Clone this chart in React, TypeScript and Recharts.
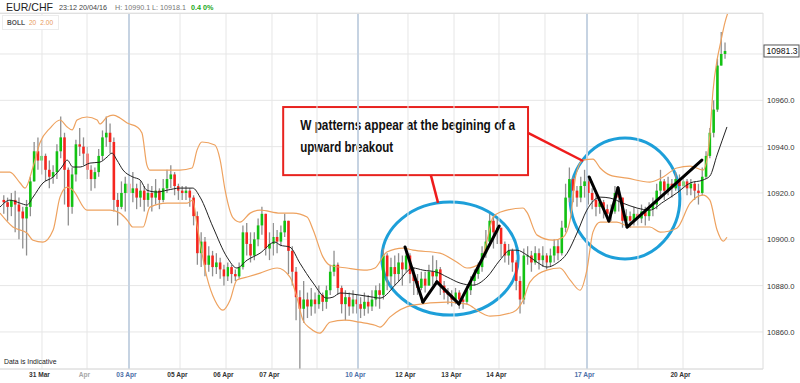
import React from 'react'
import {
  ComposedChart,
  Bar,
  Line,
  XAxis,
  YAxis,
  CartesianGrid,
  ReferenceLine,
  ReferenceArea,
  ReferenceDot,
} from 'recharts'

// hourly-ish candles, index 1..191; open = previous close
const closes = [
  10916, 10914, 10917, 10915, 10912, 10909, 10914, 10925, 10938, 10934,
  10936, 10930, 10927, 10929, 10938, 10944, 10930, 10914, 10928, 10941,
  10940, 10937, 10930, 10926, 10929, 10936, 10944, 10946, 10942, 10917,
  10914, 10920, 10924, 10920, 10922, 10918, 10921, 10917, 10920, 10918,
  10921, 10917, 10922, 10926, 10928, 10923, 10921, 10920, 10921, 10918,
  10910, 10894, 10899, 10889, 10893, 10888, 10890, 10887, 10884, 10888,
  10885, 10884, 10888, 10903, 10898, 10893, 10900, 10906, 10911, 10896,
  10898, 10901, 10899, 10903, 10908, 10895, 10886, 10875, 10870, 10874,
  10871, 10874, 10872, 10876, 10873, 10878, 10886, 10889, 10879, 10872,
  10875, 10871, 10874, 10872, 10870, 10873, 10871, 10874, 10878, 10876,
  10893, 10884, 10888, 10885, 10890, 10887, 10893, 10885, 10882, 10879,
  10883, 10880, 10886, 10884, 10887, 10880, 10877, 10876, 10874, 10877,
  10874, 10873, 10878, 10882, 10885, 10888, 10894, 10899, 10908, 10903,
  10905, 10898, 10893, 10895, 10890, 10882, 10874, 10893, 10893, 10890,
  10894, 10891, 10893, 10890, 10893, 10897, 10894, 10905, 10918, 10926,
  10921, 10918, 10923, 10925, 10920, 10917, 10914, 10916, 10913, 10911,
  10912, 10920, 10918, 10908, 10910, 10908, 10911, 10909, 10912, 10910,
  10913, 10915, 10921, 10925, 10921, 10924, 10922, 10926, 10923, 10925,
  10922, 10924, 10921, 10920, 10927, 10936, 10946, 10956, 10975, 10980,
  10981.3,
]
const highs = [
  10919, 10918, 10920, 10921, 10918, 10914, 10917, 10927, 10942, 10944,
  10943, 10937, 10934, 10932, 10941, 10953, 10946, 10931, 10931, 10943,
  10948, 10944, 10940, 10932, 10931, 10939, 10947, 10953, 10950, 10944,
  10920, 10925, 10927, 10926, 10929, 10924, 10925, 10923, 10924, 10923,
  10926, 10922, 10926, 10930, 10932, 10929, 10924, 10923, 10923, 10922,
  10919, 10912, 10903, 10901, 10897, 10895, 10894, 10892, 10889, 10890,
  10889, 10887, 10890, 10906, 10907, 10903, 10903, 10909, 10914, 10905,
  10903, 10907, 10904, 10906, 10911, 10906, 10897, 10888, 10878, 10882,
  10877, 10879, 10877, 10880, 10877, 10880, 10889, 10895, 10890, 10880,
  10878, 10877, 10878, 10876, 10875, 10877, 10876, 10878, 10880, 10881,
  10896, 10894, 10892, 10893, 10894, 10893, 10896, 10894, 10888, 10885,
  10886, 10886, 10889, 10893, 10891, 10888, 10882, 10879, 10878, 10879,
  10878, 10876, 10880, 10884, 10887, 10890, 10897, 10904, 10911, 10910,
  10909, 10904, 10899, 10898, 10896, 10891, 10884, 10896, 10897, 10895,
  10897, 10896, 10897, 10894, 10896, 10900, 10900, 10908, 10924, 10931,
  10927, 10923, 10927, 10930, 10926, 10922, 10919, 10918, 10917, 10915,
  10915, 10923, 10922, 10917, 10913, 10912, 10914, 10913, 10915, 10914,
  10916, 10918, 10924, 10930, 10926, 10927, 10926, 10929, 10928, 10927,
  10926, 10926, 10925, 10924, 10931, 10938, 10948, 10960, 10978, 10989.5,
  10985,
]
const lows = [
  10911, 10908, 10910, 10903, 10900, 10896, 10893, 10910, 10925, 10930,
  10928, 10925, 10922, 10924, 10926, 10935, 10915, 10906, 10911, 10925,
  10936, 10932, 10926, 10921, 10922, 10927, 10934, 10940, 10937, 10912,
  10906, 10913, 10912, 10913, 10916, 10913, 10914, 10912, 10914, 10912,
  10915, 10913, 10916, 10920, 10922, 10919, 10917, 10917, 10917, 10914,
  10906, 10889, 10888, 10884, 10886, 10884, 10885, 10883, 10880, 10882,
  10881, 10882, 10883, 10887, 10893, 10890, 10891, 10897, 10902, 10893,
  10891, 10893, 10894, 10897, 10901, 10885, 10880, 10865, 10844, 10864,
  10866, 10867, 10868, 10870, 10869, 10870, 10876, 10884, 10876, 10868,
  10865, 10867, 10868, 10868, 10866, 10867, 10868, 10869, 10871, 10870,
  10874, 10878, 10880, 10880, 10882, 10880, 10886, 10881, 10876, 10876,
  10878, 10877, 10880, 10880, 10881, 10876, 10874, 10872, 10871, 10872,
  10870, 10870, 10872, 10876, 10880, 10883, 10886, 10892, 10898, 10896,
  10898, 10892, 10890, 10889, 10886, 10878, 10868, 10872, 10889, 10886,
  10889, 10887, 10888, 10887, 10888, 10890, 10891, 10893, 10903, 10916,
  10916, 10914, 10916, 10918, 10915, 10913, 10910, 10911, 10909, 10908,
  10908, 10911, 10912, 10905, 10905, 10905, 10906, 10906, 10907, 10906,
  10908, 10910, 10913, 10918, 10917, 10919, 10918, 10921, 10920, 10922,
  10919, 10919, 10917, 10915, 10919, 10926, 10935, 10944, 10955, 10975,
  10978,
]

// Bollinger (20, 2): [candle index, price]
const upperIdx = [0, 2.6, 5.3, 6.6, 8.7, 10.5, 13.2, 15.8, 17.7, 19, 20.3, 22.9, 25.6, 26.3, 28.2, 29.8, 31.6, 33.5, 36.1, 37.4, 38.7, 39.5, 44, 47.4, 50.6, 51.9, 53.2, 56.6, 58, 59.3, 61.4, 63.2, 65.9, 68.5, 73.8, 77.2, 80.9, 82.5, 85.1, 86.9, 91.4, 96.7, 98.8, 101.9, 106.2, 108.8, 115.9, 120.4, 123, 126.5, 128.3, 129.9, 131.7, 137.8, 138.8, 141.5, 145.7, 148.3, 150.2, 151.7, 153.6, 156.2, 158.1, 160.7, 165.2, 171.2, 174.7, 178.3, 181.8, 185.2, 186.2, 187, 187.8, 188.9, 189.7, 191, 191.8]
const upperVal = [10929, 10929, 10924.3, 10922.1, 10931.2, 10941.6, 10948, 10951.5, 10948.5, 10947.2, 10951.5, 10952.8, 10951.5, 10949.8, 10952.8, 10953.6, 10952.4, 10950.2, 10948.5, 10945.9, 10932, 10929.9, 10929.9, 10929.9, 10930.8, 10938.5, 10942, 10940.7, 10934.2, 10921.2, 10909.2, 10907.4, 10911.3, 10912.6, 10911.3, 10911.3, 10909.6, 10904, 10892.3, 10888.8, 10887.6, 10886.7, 10887.6, 10894.5, 10896.2, 10895.3, 10894, 10890.1, 10887.6, 10889.7, 10899.6, 10909.6, 10911.7, 10913.5, 10911.7, 10901.8, 10899.6, 10900.9, 10908.3, 10927.7, 10934.2, 10934.6, 10930.8, 10927.7, 10926.4, 10924.7, 10926.9, 10930.8, 10931.6, 10929.9, 10934.2, 10945, 10963.6, 10977.4, 10983.9, 10993.8, 10998.1]
const middleIdx = [0, 2.6, 5.3, 7.1, 8.7, 11.3, 14, 16.3, 17.7, 19.2, 21.1, 23.7, 26.3, 28.2, 29.5, 30.8, 32.4, 35, 36.9, 38.7, 41.4, 44, 47.4, 50.8, 52.7, 56.1, 59.8, 62.4, 65.1, 68.5, 72.4, 73.8, 76.4, 79, 82.5, 86.1, 87.7, 89.6, 94.8, 98.3, 100.1, 104.6, 108.8, 111.4, 115.1, 117.8, 121.2, 124.6, 128.3, 131.7, 134.4, 136.2, 138.8, 141.5, 144.1, 146.7, 149.4, 152, 154.6, 158.1, 160.7, 164.1, 167.8, 171.2, 174.7, 178.3, 181.8, 185.2, 187, 188.9, 191.5]
const middleVal = [10913.9, 10916.9, 10915.6, 10914.8, 10918.2, 10924.3, 10926.9, 10931.2, 10934.2, 10931.2, 10931.2, 10932.9, 10933.3, 10935.5, 10937.2, 10934.2, 10929.9, 10926.9, 10925.6, 10921.2, 10920.4, 10921.2, 10922.1, 10922.1, 10918.2, 10905.3, 10892.3, 10887.6, 10891, 10894, 10898.8, 10897.5, 10896.6, 10889.7, 10881.1, 10874.6, 10875, 10876.8, 10875.9, 10875, 10874.6, 10881.1, 10887.6, 10886.7, 10885.8, 10883.7, 10881.1, 10880.2, 10883.7, 10891, 10895.3, 10895.3, 10893.2, 10890.1, 10888, 10889.7, 10894, 10902.7, 10912.6, 10918.2, 10917.8, 10915.6, 10913.5, 10912.6, 10916.1, 10920, 10924.3, 10925.6, 10927.3, 10936.4, 10948.5]
const lowerIdx = [0, 3.4, 7.1, 8.7, 11.3, 14, 15.8, 17.7, 19.2, 22.9, 29, 31.6, 33.5, 35, 37.7, 39.5, 44, 49.3, 50.8, 51.9, 54.5, 56.6, 58.7, 60.6, 62.4, 65.1, 68.5, 73, 76.4, 78.2, 79.8, 81.7, 84.3, 86.9, 90.9, 94.8, 98.8, 100.1, 102.7, 108.8, 117.8, 123, 126.5, 129.1, 135.1, 137.8, 139.6, 144.1, 147.5, 150.2, 152.8, 154.6, 156.2, 158.1, 162.5, 166, 171.2, 173.9, 178.3, 181.8, 185.2, 187, 188.9, 190.5, 191.5]
const lowerVal = [10911.3, 10905.3, 10902.7, 10899.6, 10898.8, 10904, 10918.2, 10922.5, 10921.2, 10912.6, 10912.6, 10911.3, 10908.3, 10905.3, 10905.3, 10913.9, 10915.6, 10915.6, 10916.9, 10906.1, 10883.7, 10873.7, 10869.4, 10873.7, 10882.4, 10883.7, 10885.4, 10887.6, 10883.7, 10875, 10865.1, 10861.6, 10859.5, 10864.2, 10865.1, 10864.2, 10862.9, 10862.1, 10866.4, 10871.6, 10872.9, 10872, 10868.5, 10866.8, 10868.5, 10873.7, 10881.5, 10886.7, 10887.6, 10882.4, 10878, 10886.7, 10903.1, 10907.4, 10907.4, 10905.3, 10905.3, 10903.1, 10904.8, 10915.6, 10919.1, 10916.9, 10904, 10899.2, 10900.9]

const priceTicks = [10860, 10880, 10900, 10920, 10940, 10960, 10980]
const dayTicks = [11.06, 22.92, 33.98, 47.42, 59.54, 71.65, 83.51, 94.31, 107.48, 119.6, 131.45, 143.57, 154.64, 168.07, 179.93]
const dayLabels = ['31 Mar', 'Apr', '03 Apr', '05 Apr', '06 Apr', '07 Apr', '08 Apr', '10 Apr', '12 Apr', '13 Apr', '14 Apr', '15 Apr', '17 Apr', '19 Apr', '20 Apr']
const weekStarts = ['03 Apr', '10 Apr', '17 Apr']

// annotation points [index, price]
const wPattern1 = [[106.7, 10896.7], [111.4, 10872.9], [115.1, 10881.6], [120.9, 10872.1], [131.5, 10905.7]]
const wPattern2 = [[155.2, 10926.9], [160.4, 10907.9], [162.8, 10922.2], [165.2, 10905.3], [184.9, 10934.2]]
const circles = [
  { x1: 100.6, x2: 136.5, y1: 10867.3, y2: 10916.1 },
  { x1: 150.2, x2: 179.1, y1: 10891.5, y2: 10943.7 },
]
const callout = { x1: 74.6, x2: 139.1, y1: 10927.7, y2: 10957.1 }
const calloutLines = ['W patterns appear at the begining of a', 'upward breakout']
const calloutWidths = [215, 93]
const pointers = [
  [[113.5, 10927.7], [115.4, 10915.7]],
  [[139.1, 10945.9], [153.6, 10933.8]],
]

const candles = closes.map((c, k) => {
  const open = k === 0 ? 10917 : closes[k - 1]
  return {
    idx: k + 1,
    open,
    close: c,
    high: Math.max(highs[k], open, c),
    low: Math.min(lows[k], open, c),
  }
})
const toSeries = (xs: number[], vs: number[]) => xs.map((x, k) => ({ idx: x, v: vs[k] }))
const upperData = toSeries(upperIdx, upperVal)
const middleData = toSeries(middleIdx, middleVal)
const lowerData = toSeries(lowerIdx, lowerVal)
const lastClose = closes[closes.length - 1]

const FONT = 'Arial, "Liberation Sans", sans-serif'

const Candle = (props: any) => {
  const { x, y, width, height, payload } = props
  if (x == null || y == null) return <g />
  const top = Math.min(y, y + height)
  const h = Math.abs(height)
  const range = payload.high - payload.low || 1
  const ratio = h / range
  const cx = x + width / 2
  const bodyTop = top + (payload.high - Math.max(payload.open, payload.close)) * ratio
  const bodyH = Math.max(1, Math.abs(payload.open - payload.close) * ratio)
  const up = payload.close >= payload.open
  return (
    <g>
      <line x1={cx} x2={cx} y1={top} y2={top + h} stroke="#8f8f8f" strokeWidth={1.3} />
      <rect x={cx - 1.3} y={bodyTop} width={2.6} height={bodyH} fill={up ? '#13c213' : '#f5261f'} />
    </g>
  )
}

const PriceTick = ({ y, payload }: any) => {
  if (payload.value === 10980) return <g />
  return (
    <text x={767} y={y + 3} fontSize={7.6} fill="#333" fontFamily={FONT}>
      {payload.value.toFixed(1)}
    </text>
  )
}

const DayTick = ({ x, payload }: any) => {
  const k = dayTicks.indexOf(payload.value)
  const label = dayLabels[k] ?? ''
  const color = label === 'Apr' ? '#a8a8a8' : weekStarts.includes(label) ? '#4d6fa8' : '#333'
  return (
    <text x={x - 2.5} y={377} textAnchor="middle" fontSize={6.6} fontWeight="bold" fill={color} fontFamily={FONT}>
      {label}
    </text>
  )
}

const small = { position: 'absolute' as const, top: 4, fontSize: 7.2, lineHeight: '8px', whiteSpace: 'nowrap' as const }

export default function App() {
  return (
    <div style={{ position: 'absolute', left: 0, top: 0, width: 800, height: 383, background: '#fff', fontFamily: FONT, overflow: 'hidden' }}>
      <ComposedChart
        width={800}
        height={383}
        data={candles}
        margin={{ top: 13, right: 0, bottom: 0, left: 0 }}
      >
        <CartesianGrid vertical={false} stroke="#e6e6e6" />
        <XAxis
          dataKey="idx"
          type="number"
          domain={[0, 201]}
          ticks={dayTicks}
          tick={<DayTick />}
          tickLine={false}
          axisLine={{ stroke: '#dcdcdc' }}
          height={14}
          allowDataOverflow
        />
        <YAxis
          orientation="right"
          type="number"
          domain={[10844, 10997.7]}
          ticks={priceTicks}
          tick={<PriceTick />}
          tickLine={false}
          axisLine={{ stroke: '#dcdcdc' }}
          width={37}
          allowDataOverflow
        />
        {dayTicks.map((t, k) => (
          <ReferenceLine
            key={'d' + k}
            x={t}
            stroke={weekStarts.includes(dayLabels[k]) ? '#c6d3e2' : '#e6e6e6'}
            strokeWidth={weekStarts.includes(dayLabels[k]) ? 2 : 1}
          />
        ))}
        <Line data={upperData} dataKey="v" type="monotone" stroke="#eea25f" strokeWidth={1.2} dot={false} isAnimationActive={false} />
        <Line data={lowerData} dataKey="v" type="monotone" stroke="#eea25f" strokeWidth={1.2} dot={false} isAnimationActive={false} />
        <Bar dataKey={(d: any) => [d.low, d.high]} barSize={4} shape={<Candle />} isAnimationActive={false} />
        <Line data={middleData} dataKey="v" type="monotone" stroke="#222" strokeWidth={1} dot={false} isAnimationActive={false} />

        {circles.map((c, k) => (
          <ReferenceArea
            key={'c' + k}
            x1={c.x1}
            x2={c.x2}
            y1={c.y1}
            y2={c.y2}
            ifOverflow="visible"
            shape={(p: any) => (
              <ellipse
                cx={p.x + p.width / 2}
                cy={p.y + p.height / 2}
                rx={p.width / 2}
                ry={p.height / 2}
                fill="none"
                stroke="#1d9fd9"
                strokeWidth={3}
              />
            )}
          />
        ))}
        {[wPattern1, wPattern2].map((pts, w) =>
          pts.slice(1).map((p, k) => (
            <ReferenceLine
              key={'w' + w + '-' + k}
              segment={[{ x: pts[k][0], y: pts[k][1] }, { x: p[0], y: p[1] }]}
              stroke="#000"
              strokeWidth={3}
              strokeLinecap="round"
              ifOverflow="visible"
            />
          ))
        )}
        {pointers.map((seg, k) => (
          <ReferenceLine
            key={'p' + k}
            segment={[{ x: seg[0][0], y: seg[0][1] }, { x: seg[1][0], y: seg[1][1] }]}
            stroke="#ee1c1c"
            strokeWidth={2.5}
            ifOverflow="visible"
          />
        ))}
        <ReferenceArea
          x1={callout.x1}
          x2={callout.x2}
          y1={callout.y1}
          y2={callout.y2}
          ifOverflow="visible"
          shape={(p: any) => (
            <g>
              <rect x={p.x} y={p.y} width={p.width} height={p.height} fill="#fff" stroke="#e8231f" strokeWidth={2} />
              {calloutLines.map((s, k) => (
                <text
                  key={k}
                  x={p.x + 17}
                  y={p.y + 23 + k * 22}
                  fontSize={15}
                  fontWeight="bold"
                  fill="#111"
                  textLength={calloutWidths[k]}
                  lengthAdjust="spacingAndGlyphs"
                  fontFamily={FONT}
                >
                  {s}
                </text>
              ))}
            </g>
          )}
        />
        <ReferenceDot
          x={201}
          y={lastClose}
          ifOverflow="visible"
          shape={(p: any) => (
            <g>
              <rect x={p.cx + 1} y={p.cy - 6} width={35} height={12} fill="#fff" stroke="#555" strokeWidth={1} />
              <text x={p.cx + 3.5} y={p.cy + 3.2} fontSize={8.6} fill="#111" fontFamily={FONT}>
                {lastClose.toFixed(1)}
              </text>
            </g>
          )}
        />
      </ComposedChart>

      <div style={{ position: 'absolute', left: 0, top: 13, width: 763, height: 1, background: '#e0e0e0' }} />
      <div style={{ position: 'absolute', left: 6, top: 1, fontSize: 10.6, lineHeight: '12px', color: '#222', whiteSpace: 'nowrap' }}>
        EUR/CHF
      </div>
      <div style={{ ...small, left: 59, color: '#444' }}>23:12 20/04/16</div>
      <div style={{ ...small, left: 115, color: '#777' }}>H: 10990.1</div>
      <div style={{ ...small, left: 152, color: '#777' }}>L: 10918.1</div>
      <div style={{ ...small, left: 191, color: '#1aa81a', fontWeight: 'bold' }}>0.4 0%</div>
      <div
        style={{
          position: 'absolute',
          left: 2,
          top: 15,
          width: 55,
          height: 13,
          background: '#fff',
          border: '1px solid #ececec',
          fontSize: 6.6,
          lineHeight: '13px',
          whiteSpace: 'nowrap',
        }}
      >
        <span style={{ marginLeft: 4, fontWeight: 'bold', color: '#555' }}>BOLL</span>
        <span style={{ marginLeft: 4, color: '#e89a5c' }}>20</span>
        <span style={{ marginLeft: 4, color: '#e89a5c' }}>2.00</span>
      </div>
      <div style={{ position: 'absolute', left: 4, top: 358, fontSize: 6.9, lineHeight: '8px', color: '#222', whiteSpace: 'nowrap' }}>
        Data is Indicative
      </div>
    </div>
  )
}
